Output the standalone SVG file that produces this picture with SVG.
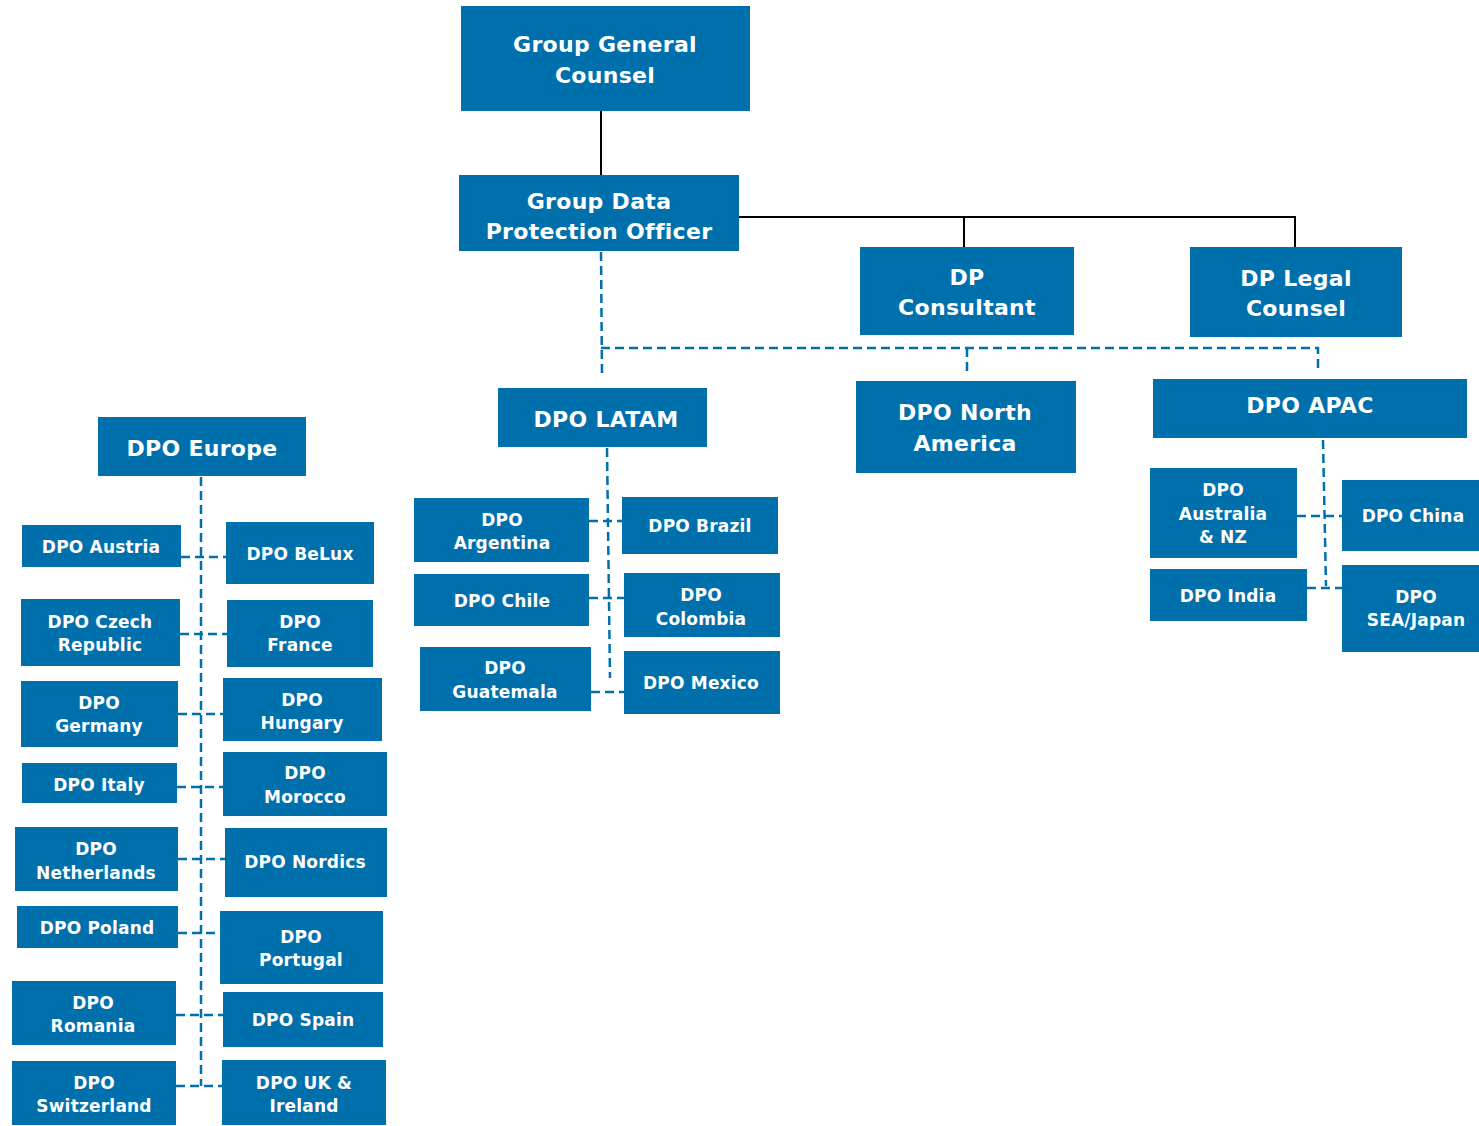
<svg xmlns="http://www.w3.org/2000/svg" width="1479" height="1126" viewBox="0 0 1479 1126">
<style>
.n{fill:#0070AD}
.t{fill:#fff;font-family:"DejaVu Sans","Verdana",sans-serif;font-weight:bold;text-anchor:middle;transform:translateY(1px)}
.l{font-size:22px;letter-spacing:0.3px}
.s{font-size:17px;letter-spacing:0.2px}
.solid{stroke:#000;stroke-width:2;fill:none}
.dash{stroke:#0070AD;stroke-width:2.5;fill:none;stroke-dasharray:9 5}
</style>
<rect width="1479" height="1126" fill="#fff"/>
<g id="connectors">
<path class="solid" d="M601 111V175"/>
<path class="solid" d="M739 217H1295V247M964 217V247"/>
<path class="dash" d="M601 252L602 376M601 348H1318V373M967 348V374"/>
<path class="dash" d="M201 477V1086"/>
<path class="dash" d="M181 557H226M180 634H227M178 714H223M177 787H223M178 859H225M178 933H220M176 1015H223M176 1086H222"/>
<path class="dash" d="M607 448L610 678"/>
<path class="dash" d="M589 521H622M589 598H624M591 692H624"/>
<path class="dash" d="M1323 440L1326 586"/>
<path class="dash" d="M1297 516H1342M1307 588H1342"/>
</g>
<g id="ggc"><rect class="n" x="461" y="6" width="289" height="105"/><text class="t l" x="605" y="51">Group General</text><text class="t l" x="605" y="82">Counsel</text></g>
<g id="gdpo"><rect class="n" x="459" y="175" width="280" height="76"/><text class="t l" x="599" y="208">Group Data</text><text class="t l" x="599" y="238">Protection Officer</text></g>
<g id="dpc"><rect class="n" x="860" y="247" width="214" height="88"/><text class="t l" x="967" y="284">DP</text><text class="t l" x="967" y="314">Consultant</text></g>
<g id="dplc"><rect class="n" x="1190" y="247" width="212" height="90"/><text class="t l" x="1296" y="285">DP Legal</text><text class="t l" x="1296" y="315">Counsel</text></g>
<g id="latam"><rect class="n" x="498" y="388" width="209" height="59"/><text class="t l" x="606" y="426">DPO LATAM</text></g>
<g id="na"><rect class="n" x="856" y="381" width="220" height="92"/><text class="t l" x="965" y="419">DPO North</text><text class="t l" x="965" y="450">America</text></g>
<g id="apac"><rect class="n" x="1153" y="379" width="314" height="59"/><text class="t l" x="1310" y="412">DPO APAC</text></g>
<g id="europe"><rect class="n" x="98" y="417" width="208" height="59"/><text class="t l" x="202" y="455">DPO Europe</text></g>
<g id="austria"><rect class="n" x="22" y="525" width="159" height="42"/><text class="t s" x="101" y="552">DPO Austria</text></g>
<g id="belux"><rect class="n" x="226" y="522" width="148" height="62"/><text class="t s" x="300" y="559">DPO BeLux</text></g>
<g id="czech"><rect class="n" x="21" y="599" width="159" height="67"/><text class="t s" x="100" y="627">DPO Czech</text><text class="t s" x="100" y="650">Republic</text></g>
<g id="france"><rect class="n" x="227" y="600" width="146" height="67"/><text class="t s" x="300" y="627">DPO</text><text class="t s" x="300" y="650">France</text></g>
<g id="germany"><rect class="n" x="21" y="681" width="157" height="66"/><text class="t s" x="99" y="708">DPO</text><text class="t s" x="99" y="731">Germany</text></g>
<g id="hungary"><rect class="n" x="223" y="678" width="159" height="63"/><text class="t s" x="302" y="705">DPO</text><text class="t s" x="302" y="728">Hungary</text></g>
<g id="italy"><rect class="n" x="22" y="763" width="155" height="40"/><text class="t s" x="99" y="790">DPO Italy</text></g>
<g id="morocco"><rect class="n" x="223" y="752" width="164" height="64"/><text class="t s" x="305" y="778">DPO</text><text class="t s" x="305" y="802">Morocco</text></g>
<g id="netherlands"><rect class="n" x="15" y="827" width="163" height="64"/><text class="t s" x="96" y="854">DPO</text><text class="t s" x="96" y="878">Netherlands</text></g>
<g id="nordics"><rect class="n" x="225" y="828" width="162" height="69"/><text class="t s" x="305" y="867">DPO Nordics</text></g>
<g id="poland"><rect class="n" x="17" y="906" width="161" height="42"/><text class="t s" x="97" y="933">DPO Poland</text></g>
<g id="portugal"><rect class="n" x="220" y="911" width="163" height="73"/><text class="t s" x="301" y="942">DPO</text><text class="t s" x="301" y="965">Portugal</text></g>
<g id="romania"><rect class="n" x="12" y="981" width="164" height="64"/><text class="t s" x="93" y="1008">DPO</text><text class="t s" x="93" y="1031">Romania</text></g>
<g id="spain"><rect class="n" x="223" y="992" width="160" height="55"/><text class="t s" x="303" y="1025">DPO Spain</text></g>
<g id="switzerland"><rect class="n" x="12" y="1061" width="164" height="64"/><text class="t s" x="94" y="1088">DPO</text><text class="t s" x="94" y="1111">Switzerland</text></g>
<g id="uk"><rect class="n" x="222" y="1060" width="164" height="65"/><text class="t s" x="304" y="1088">DPO UK &amp;</text><text class="t s" x="304" y="1111">Ireland</text></g>
<g id="argentina"><rect class="n" x="414" y="498" width="175" height="64"/><text class="t s" x="502" y="525">DPO</text><text class="t s" x="502" y="548">Argentina</text></g>
<g id="brazil"><rect class="n" x="622" y="497" width="156" height="57"/><text class="t s" x="700" y="531">DPO Brazil</text></g>
<g id="chile"><rect class="n" x="414" y="574" width="175" height="52"/><text class="t s" x="502" y="606">DPO Chile</text></g>
<g id="colombia"><rect class="n" x="624" y="573" width="156" height="64"/><text class="t s" x="701" y="600">DPO</text><text class="t s" x="701" y="624">Colombia</text></g>
<g id="guatemala"><rect class="n" x="420" y="647" width="171" height="64"/><text class="t s" x="505" y="673">DPO</text><text class="t s" x="505" y="697">Guatemala</text></g>
<g id="mexico"><rect class="n" x="624" y="651" width="156" height="63"/><text class="t s" x="701" y="688">DPO Mexico</text></g>
<g id="australia"><rect class="n" x="1150" y="468" width="147" height="90"/><text class="t s" x="1223" y="495">DPO</text><text class="t s" x="1223" y="519">Australia</text><text class="t s" x="1223" y="542">&amp; NZ</text></g>
<g id="china"><rect class="n" x="1342" y="480" width="137" height="71"/><text class="t s" x="1413" y="521">DPO China</text></g>
<g id="india"><rect class="n" x="1150" y="569" width="157" height="52"/><text class="t s" x="1228" y="601">DPO India</text></g>
<g id="sea"><rect class="n" x="1342" y="565" width="137" height="87"/><text class="t s" x="1416" y="602">DPO</text><text class="t s" x="1416" y="625">SEA/Japan</text></g>
</svg>
